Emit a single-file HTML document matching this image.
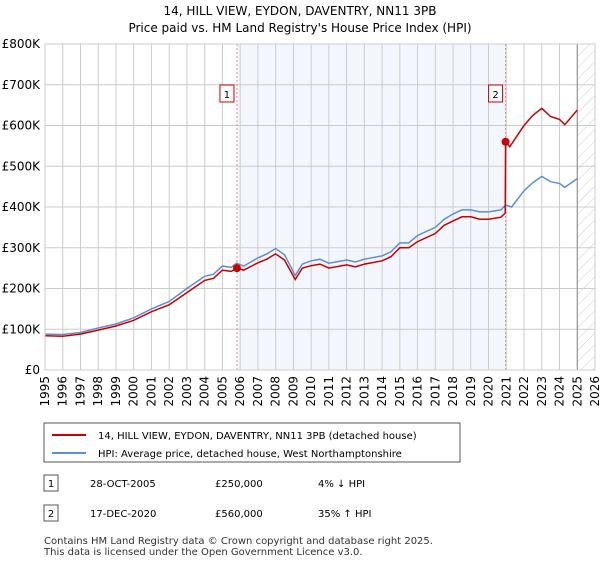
<!DOCTYPE html>
<html><head><meta charset="utf-8"><style>
body{margin:0;background:#fff;font-family:"DejaVu Sans","Liberation Sans",sans-serif;}
svg text{font-family:"DejaVu Sans","Liberation Sans",sans-serif;}
</style></head><body>
<svg id="chart" width="600" height="560" xmlns="http://www.w3.org/2000/svg">
<defs><pattern id="hatch" width="8" height="8" patternUnits="userSpaceOnUse" patternTransform="rotate(45)"><line x1="0" y1="0" x2="0" y2="8" stroke="#ccc" stroke-width="1"/></pattern></defs>
<text x="300" y="15" text-anchor="middle" font-size="12">14, HILL VIEW, EYDON, DAVENTRY, NN11 3PB</text>
<text x="300" y="32" text-anchor="middle" font-size="12">Price paid vs. HM Land Registry's House Price Index (HPI)</text>
<g id="plot"></g>
<g>
<rect x="44" y="423" width="416" height="39" fill="#fff" stroke="#555"/>
<line x1="52" y1="435" x2="86" y2="435" stroke="#cc0000" stroke-width="2"/>
<text x="98" y="439" font-size="10">14, HILL VIEW, EYDON, DAVENTRY, NN11 3PB (detached house)</text>
<line x1="52" y1="453" x2="86" y2="453" stroke="#5b8fd6" stroke-width="2"/>
<text x="98" y="457" font-size="10">HPI: Average price, detached house, West Northamptonshire</text>
</g>
<g font-size="10">
<rect x="44" y="475" width="14" height="16" fill="#fff" stroke="#555"/><text x="51" y="487" text-anchor="middle">1</text>
<text x="90" y="487">28-OCT-2005</text><text x="215" y="487">£250,000</text><text x="318" y="487">4% ↓ HPI</text>
<rect x="44" y="505" width="14" height="16" fill="#fff" stroke="#555"/><text x="51" y="517" text-anchor="middle">2</text>
<text x="90" y="517">17-DEC-2020</text><text x="215" y="517">£560,000</text><text x="318" y="517">35% ↑ HPI</text>
</g>
<text x="44" y="544" font-size="10" fill="#333">Contains HM Land Registry data © Crown copyright and database right 2025.</text>
<text x="44" y="555" font-size="10" fill="#333">This data is licensed under the Open Government Licence v3.0.</text>
</svg>
<script>
const hpiYears=[1995,1996,1997,1998,1999,2000,2001,2002,2003,2004,2004.5,2005,2005.5,2005.8,2006.2,2007,2007.5,2008,2008.5,2009.1,2009.5,2010,2010.5,2011,2012,2012.5,2013,2014,2014.5,2015,2015.5,2016,2017,2017.5,2018,2018.5,2019,2019.5,2020,2020.7,2020.96,2021.3,2022,2022.5,2023,2023.5,2024,2024.3,2025];
const hpiValues=[88,87,92,103,113,128,150,168,200,230,235,255,252,262,255,275,285,298,283,232,260,268,272,262,270,265,272,280,290,312,312,330,350,370,383,393,393,388,388,393,405,400,440,460,475,462,458,448,470];
const priceYears=[1995,1996,1997,1998,1999,2000,2001,2002,2003,2004,2004.5,2005,2005.5,2005.82,2006.2,2007,2007.5,2008,2008.5,2009.1,2009.5,2010,2010.5,2011,2012,2012.5,2013,2014,2014.5,2015,2015.5,2016,2017,2017.5,2018,2018.5,2019,2019.5,2020,2020.7,2020.94,2020.96,2021.2,2022,2022.5,2023,2023.5,2024,2024.3,2025];
const priceValues=[84,83,88,98,108,122,143,160,190,220,225,245,242,250,245,263,272,285,270,222,250,256,260,250,258,253,260,268,278,300,300,315,335,355,366,376,376,370,370,375,385,560,548,600,625,642,622,615,602,638];
const saleYears=[2005.82,2020.96];
const saleValues=[250,560];
const saleLabels=["1","2"];
const yTicks=[0,100,200,300,400,500,600,700,800];
const yTickLabels=["£0","£100K","£200K","£300K","£400K","£500K","£600K","£700K","£800K"];
const xTicks=[1995,1996,1997,1998,1999,2000,2001,2002,2003,2004,2005,2006,2007,2008,2009,2010,2011,2012,2013,2014,2015,2016,2017,2018,2019,2020,2021,2022,2023,2024,2025,2026];

const X0=45,X1=595,Y0=370,Y1=44;
const xs=y=>X0+(y-1995)/(2026-1995)*(X1-X0);
const ys=v=>Y0-v/800*(Y0-Y1);
const NS="http://www.w3.org/2000/svg";
const g=document.getElementById('plot');
function mk(t,a){const e=document.createElementNS(NS,t);for(const k in a)e.setAttribute(k,a[k]);g.appendChild(e);return e;}
let e;
e=mk('rect',{x:xs(saleYears[0]),y:Y1,width:xs(saleYears[1])-xs(saleYears[0]),height:Y0-Y1,fill:'#f3f6fd'});


e=mk('rect',{x:xs(2025),y:Y1,width:X1-xs(2025),height:Y0-Y1,fill:'url(#hatch)'});


xTicks.forEach(t=>{
 e=mk('line',{x1:xs(t),x2:xs(t),y1:Y1,y2:Y0,stroke:'#ccc'});
 
 
 e=mk('text',{x:0,y:0,'font-size':12,'text-anchor':'end',transform:`translate(${xs(t)+4},${Y0+6}) rotate(-90)`});
 e.textContent=t;
 
 
});
yTicks.forEach((t,i)=>{
 e=mk('line',{x1:X0,x2:X1,y1:ys(t),y2:ys(t),stroke:'#ccc'});
 
 
 e=mk('text',{x:X0-5,y:ys(t)+4,'font-size':12,'text-anchor':'end'});
 e.textContent=yTickLabels[i];
 
 
});
e=mk('line',{x1:xs(2025),x2:xs(2025),y1:Y1,y2:Y0,stroke:'#888'});


saleYears.forEach((y,i)=>{
 e=mk('line',{x1:xs(y),x2:xs(y),y1:Y1,y2:Y0,stroke:'#ee8888','stroke-dasharray':'2,2'});
 
 
 e=mk('rect',{x:xs(y)-17,y:85,width:14,height:17,fill:'#fff',stroke:'#cc0000'});
 
 
 e=mk('text',{x:xs(y)-10,y:98,'font-size':10,'text-anchor':'middle'});
 e.textContent=saleLabels[i];
 
 
});
function path(xa,va,col,name){
 const d=xa.map((x,i)=>(i?'L':'M')+xs(x).toFixed(1)+','+ys(va[i]).toFixed(1)).join(' ');
 const p=mk('path',{d:d,fill:'none',stroke:col,'stroke-width':1.5});
 
 
}
path(hpiYears,hpiValues,'#5b8fd6','hpi-line');
path(priceYears,priceValues,'#cc0000','price-line');
saleYears.forEach((y,i)=>{
 e=mk('circle',{cx:xs(y),cy:ys(saleValues[i]),r:4,fill:'#cc0000'});
 
 
});
e=mk('rect',{x:X0,y:Y1,width:X1-X0,height:Y0-Y1,fill:'none',stroke:'#ccc'});


</script>
</body></html>
